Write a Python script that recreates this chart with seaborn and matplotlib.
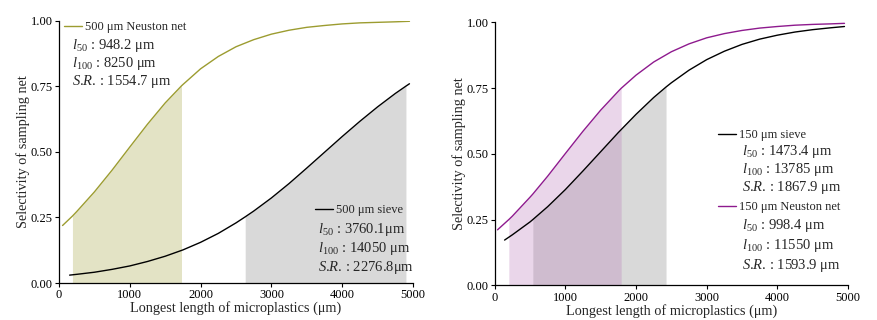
import numpy as np
import pandas as pd
import matplotlib
matplotlib.use("Agg")
import matplotlib.pyplot as plt
import seaborn as sns

# values (length in um, selectivity)
x_neu500 = [50, 190, 250, 500, 750, 1000, 1250, 1500, 1730, 1750, 2000, 2250, 2500, 2750,
            3000, 3250, 3500, 3750, 4000, 4250, 4500, 4750, 4950]
y_neu500 = [0.219, 0.255, 0.272, 0.347, 0.430, 0.518, 0.605, 0.686, 0.751, 0.756, 0.816, 0.863, 0.900, 0.927,
            0.948, 0.963, 0.974, 0.981, 0.987, 0.991, 0.993, 0.995, 0.997]

x_sie500 = [150, 250, 500, 750, 1000, 1250, 1500, 1750, 2000, 2250, 2500, 2630, 2750, 3000,
            3250, 3500, 3750, 4000, 4250, 4500, 4750, 4900, 4950]
y_sie500 = [0.030, 0.033, 0.041, 0.052, 0.065, 0.082, 0.102, 0.126, 0.155, 0.189, 0.229, 0.252, 0.274, 0.324,
            0.379, 0.438, 0.498, 0.558, 0.616, 0.671, 0.722, 0.750, 0.759]

x_sie150 = [140, 250, 500, 540, 750, 1000, 1250, 1500, 1750, 1790, 2000, 2250, 2425, 2500,
            2750, 3000, 3250, 3500, 3750, 4000, 4250, 4500, 4750, 4950]
y_sie150 = [0.172, 0.192, 0.241, 0.250, 0.299, 0.364, 0.435, 0.508, 0.581, 0.592, 0.650, 0.714, 0.754, 0.770,
            0.818, 0.858, 0.890, 0.916, 0.936, 0.951, 0.963, 0.972, 0.979, 0.984]

x_neu150 = [40, 200, 250, 500, 540, 750, 1000, 1250, 1500, 1750, 1790, 2000, 2250, 2500,
            2750, 3000, 3250, 3500, 3750, 4000, 4250, 4500, 4750, 4950]
y_neu150 = [0.211, 0.250, 0.263, 0.335, 0.347, 0.415, 0.501, 0.586, 0.666, 0.738, 0.749, 0.799, 0.849, 0.888,
            0.918, 0.941, 0.957, 0.969, 0.978, 0.984, 0.989, 0.992, 0.994, 0.996]

# shaded ranges (l25 .. l75)
shade_neu500 = (190, 1730)
shade_sie500 = (2630, 4900)
shade_sie150 = (540, 2425)
shade_neu150 = (200, 1790)

stats_neu500 = ["948.2 \u03bcm", "8250 \u03bcm", "1554.7 \u03bcm"]
stats_sie500 = ["3760.1\u03bcm", "14050 \u03bcm", "2276.8\u03bcm"]
stats_sie150 = ["1473.4 \u03bcm", "13785 \u03bcm", "1867.9 \u03bcm"]
stats_neu150 = ["998.4 \u03bcm", "11550 \u03bcm", "1593.9 \u03bcm"]

sns.set_style("ticks")
plt.rcParams['font.family'] = ['Liberation Serif', 'DejaVu Serif']
plt.rcParams['mathtext.fontset'] = 'custom'
plt.rcParams['mathtext.rm'] = 'Liberation Serif'
plt.rcParams['mathtext.it'] = 'Liberation Serif:italic'

olive = '#9c9c30'
purple = '#8e1a8e'
W, H = 877, 320

fig = plt.figure(figsize=(W / 100, H / 100), dpi=100)
ax1 = fig.add_axes([59 / W, 1 - 283 / H, 354 / W, 262.5 / H])
ax2 = fig.add_axes([494.7 / W, 1 - 285.3 / H, 353.3 / W, 263 / H])


def shade(ax, xs, ys, rng, **kw):
    xs = np.array(xs)
    ys = np.array(ys)
    m = (xs >= rng[0]) & (xs <= rng[1])
    ax.fill_between(xs, 0, ys, where=m, linewidth=0, **kw)


def stats(px, y0, vals, dy):
    labels = [r'$\mathit{l}_{50}$', r'$\mathit{l}_{100}$', r'$\mathit{S}$.$\mathit{R}$.']
    for i, (lab, v) in enumerate(zip(labels, vals)):
        fig.text(px / W, 1 - (y0 + i * dy) / H, lab + " : " + v, fontsize=10.5,
                 va='center', ha='left')


def legend(line, text, px, py):
    fig.legend([line], [text], loc='center left', bbox_to_anchor=(px / W, 1 - py / H),
               frameon=False, handlelength=1.4, handletextpad=0.3, borderpad=0,
               borderaxespad=0, fontsize=9)


# left panel
shade(ax1, x_neu500, y_neu500, shade_neu500, color='#e3e3c5')
shade(ax1, x_sie500, y_sie500, shade_sie500, color='#d9d9d9')
sns.lineplot(x=x_neu500, y=y_neu500, color=olive, lw=1.0, ax=ax1)
sns.lineplot(x=x_sie500, y=y_sie500, color='black', lw=1.0, ax=ax1)
legend(ax1.lines[0], "500 \u03bcm Neuston net", 64, 27)
stats(72, 45, stats_neu500, 18)
legend(ax1.lines[1], "500 \u03bcm sieve", 315, 210)
stats(318, 229, stats_sie500, 19.5)

# right panel
shade(ax2, x_sie150, y_sie150, shade_sie150, color='#d9d9d9')
shade(ax2, x_neu150, y_neu150, shade_neu150, color='#b775b7', alpha=0.29)
sns.lineplot(x=x_sie150, y=y_sie150, color='black', lw=1.0, ax=ax2)
sns.lineplot(x=x_neu150, y=y_neu150, color=purple, lw=1.0, ax=ax2)
legend(ax2.lines[0], "150 \u03bcm sieve", 718, 135)
stats(742, 152, stats_sie150, 18)
legend(ax2.lines[1], "150 \u03bcm Neuston net", 718, 207)
stats(742, 226, stats_neu150, 19.5)

for ax in (ax1, ax2):
    ax.set_xlim(0, 5000)
    ax.set_ylim(0, 1)
    ax.set_xticks([0, 1000, 2000, 3000, 4000, 5000])
    ax.set_yticks([0, 0.25, 0.5, 0.75, 1.0])
    ax.set_yticklabels(["0.00", "0.25", "0.50", "0.75", "1.00"])
    ax.tick_params(direction='out', length=3, width=0.8, labelsize=9, pad=1.5, colors='black')
    for s in ('top', 'right'):
        ax.spines[s].set_visible(False)
    for s in ('left', 'bottom'):
        ax.spines[s].set_color('black')
        ax.spines[s].set_linewidth(0.9)
    ax.set_xlabel("Longest length of microplastics (\u03bcm)", fontsize=10.3, labelpad=0)
    ax.set_ylabel("Selectivity of sampling net", fontsize=10.3, labelpad=0.5)

fig.savefig("out.png", dpi=100)
